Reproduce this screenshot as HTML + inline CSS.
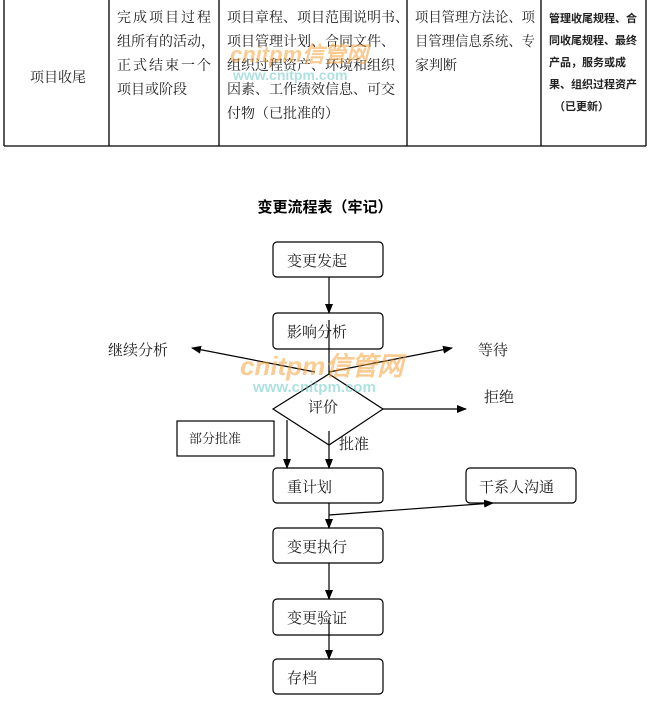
<!DOCTYPE html>
<html><head><meta charset="utf-8"><style>
body{margin:0;width:650px;height:716px;background:#fff;overflow:hidden;font-family:"Liberation Serif","Noto Serif CJK SC",serif;}
</style></head><body>
<svg width="650" height="716" xmlns="http://www.w3.org/2000/svg" style="position:absolute;left:0;top:0">
<defs><marker id="a" markerWidth="10" markerHeight="8" refX="9" refY="4" orient="auto" markerUnits="userSpaceOnUse"><path d="M0,0 L10,4 L0,8z" fill="#000"/></marker></defs>
<g stroke="#000" stroke-width="1.3" fill="none">
<line x1="4" y1="0" x2="4" y2="146"/>
<line x1="109" y1="0" x2="109" y2="146"/>
<line x1="219" y1="0" x2="219" y2="146"/>
<line x1="407" y1="0" x2="407" y2="146"/>
<line x1="541" y1="0" x2="541" y2="146"/>
<line x1="646" y1="0" x2="646" y2="146"/>
<line x1="4" y1="146" x2="646" y2="146"/>
</g>
<g font-size="14" fill="#222" font-family="Liberation Serif,Noto Serif CJK SC,serif">
<text x="30" y="82">项目收尾</text>
<text x="117" y="22" textLength="94">完成项目过程</text>
<text x="117" y="46">组所有的活动，</text>
<text x="117" y="70" textLength="94">正式结束一个</text>
<text x="117" y="94">项目或阶段</text>
<text x="227" y="22">项目章程、项目范围说明书、</text>
<text x="227" y="46">项目管理计划、合同文件、</text>
<text x="227" y="70">组织过程资产、环境和组织</text>
<text x="227" y="94">因素、工作绩效信息、可交</text>
<text x="227" y="118">付物（已批准的）</text>
<text x="415" y="22" textLength="120" lengthAdjust="spacingAndGlyphs">项目管理方法论、项</text>
<text x="415" y="46" textLength="120" lengthAdjust="spacingAndGlyphs">目管理信息系统、专</text>
<text x="415" y="70">家判断</text>
</g>
<g font-size="11" font-weight="bold" fill="#222" font-family="Liberation Sans,Noto Sans CJK SC,sans-serif">
<text x="549" y="22">管理收尾规程、合</text>
<text x="549" y="44">同收尾规程、最终</text>
<text x="549" y="66">产品，服务或成</text>
<text x="549" y="88">果、组织过程资产</text>
<text x="554" y="110">（已更新）</text>
</g>
<text x="325" y="212" font-size="15" font-weight="bold" text-anchor="middle" font-family="Liberation Sans,Noto Sans CJK SC,sans-serif">变更流程表（牢记）</text>
<g stroke="#000" stroke-width="1.2" fill="#fff">
<rect x="273" y="242" width="110" height="35" rx="4"/>
<rect x="273" y="313" width="110" height="36" rx="4"/>
<polygon points="329,374 383,409 329,445 273,409"/>
<rect x="177" y="421" width="97" height="35"/>
<rect x="273" y="468" width="110" height="35" rx="4"/>
<rect x="466" y="468" width="110" height="35" rx="4"/>
<rect x="273" y="528" width="110" height="35" rx="4"/>
<rect x="273" y="599" width="110" height="36" rx="4"/>
<rect x="273" y="659" width="110" height="35" rx="4"/>
</g>
<g stroke="#000" stroke-width="1.2" fill="none" marker-end="url(#a)">
<line x1="329" y1="277" x2="329" y2="313"/>
<line x1="329" y1="320" x2="329" y2="374" marker-end="none"/>
<line x1="315" y1="372" x2="192" y2="348"/>
<line x1="329" y1="372" x2="452" y2="348"/>
<line x1="383" y1="409" x2="466" y2="409"/>
<line x1="287" y1="420" x2="287" y2="468"/>
<line x1="329" y1="431" x2="329" y2="468"/>
<line x1="329" y1="503" x2="329" y2="528"/>
<line x1="329" y1="515" x2="493" y2="503"/>
<line x1="329" y1="563" x2="329" y2="599"/>
<line x1="329" y1="620" x2="329" y2="659"/>
</g>
<g font-size="15" fill="#222" font-family="Liberation Serif,Noto Serif CJK SC,serif">
<text x="287" y="266">变更发起</text>
<text x="287" y="337">影响分析</text>
<text x="108" y="355">继续分析</text>
<text x="478" y="355">等待</text>
<text x="308" y="412">评价</text>
<text x="484" y="402">拒绝</text>
<text x="339" y="449">批准</text>
<text x="287" y="492">重计划</text>
<text x="479" y="492">干系人沟通</text>
<text x="287" y="552">变更执行</text>
<text x="287" y="623">变更验证</text>
<text x="287" y="683">存档</text>
</g>
<text x="189" y="443" font-size="13" fill="#222">部分批准</text>
<g font-family="Liberation Sans,sans-serif" font-weight="bold" opacity="0.55">
<text x="240" y="375" font-size="26" font-style="italic" fill="#f7a23a">cnitpm信管网</text>
<text x="253" y="392" font-size="15" fill="#6cc8c8">www.cnitpm.com</text>
<text x="230" y="62" font-size="22" font-style="italic" fill="#f7a23a">cnitpm信管网</text>
<text x="233" y="80" font-size="14" fill="#6cc8c8">www.cnitpm.com</text>
</g>
</svg>
</body></html>
